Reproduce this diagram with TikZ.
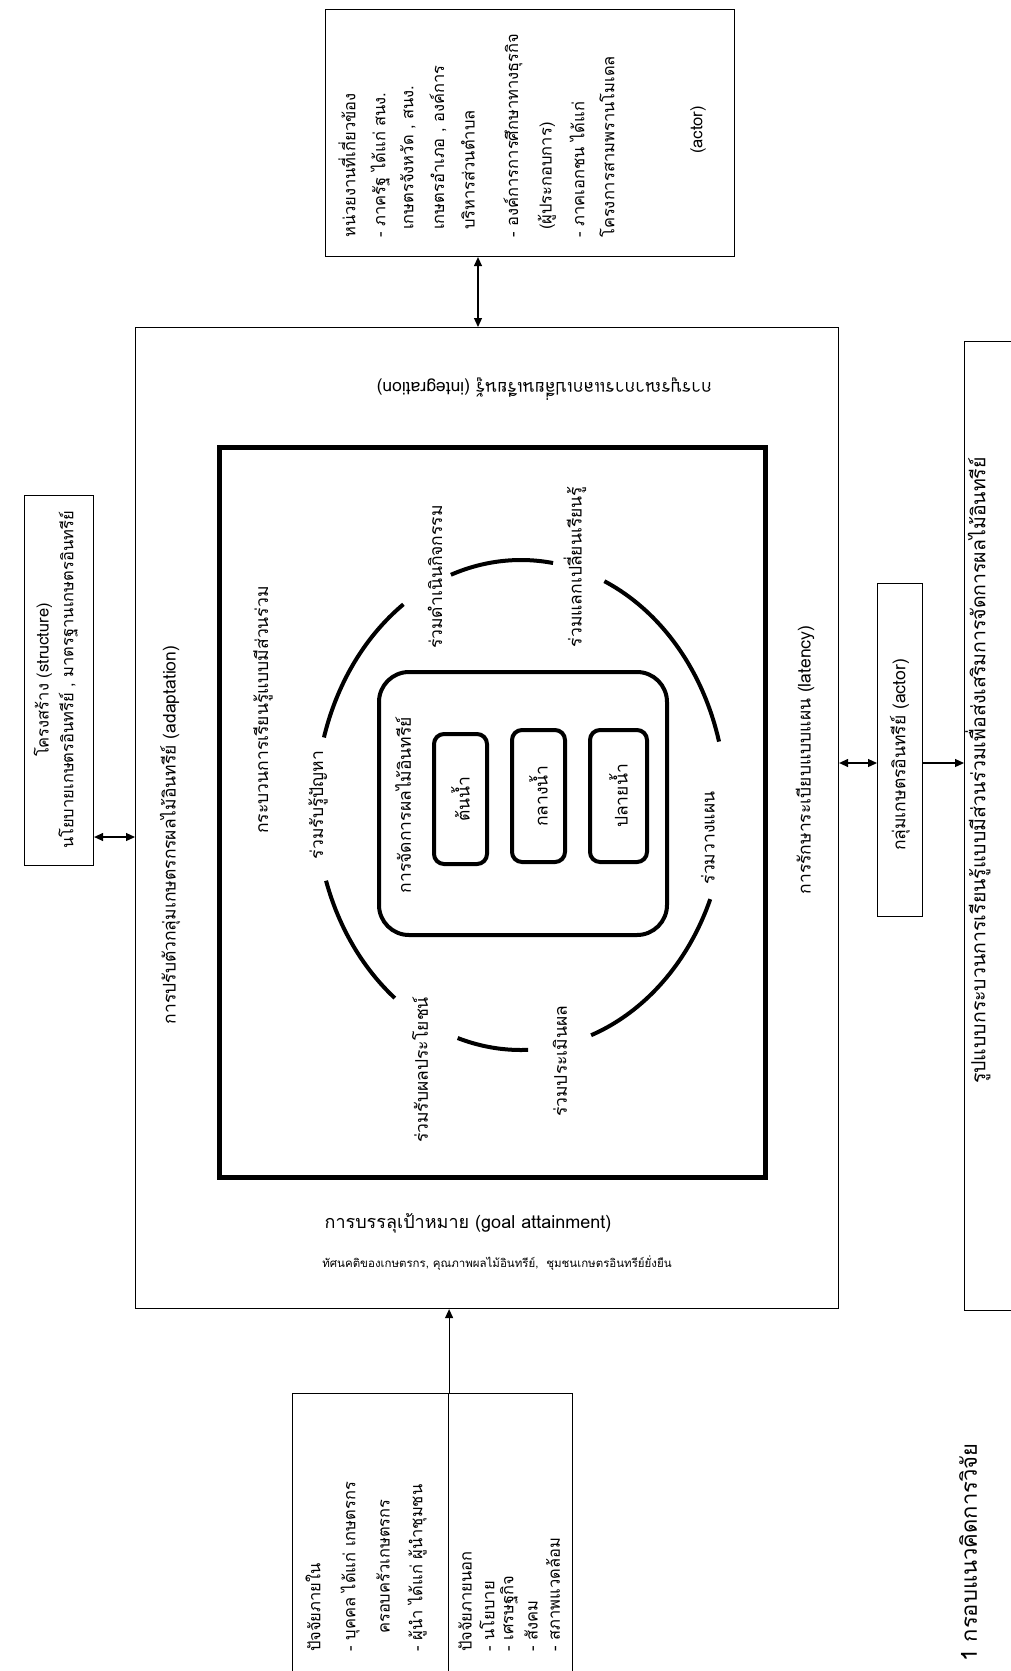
\documentclass[tikz,border=0pt]{standalone}
\usepackage{fontspec}
\setmainfont[Script=Thai]{Loma}
\usetikzlibrary{arrows.meta}
\begin{document}
\begin{tikzpicture}[x=1pt,y=-1pt,
  txt/.style={inner sep=0pt, font=\fontsize{17.5}{20}\selectfont},
  vtxt/.style={txt, rotate=90},
  stxt/.style={vtxt, font=\fontsize{16.5}{19}\selectfont},
  box/.style={draw, line width=1.1pt, inner sep=0pt, anchor=north west},
  thickbox/.style={draw, line width=5pt, inner sep=0pt, anchor=north west},
  rbox/.style={draw, line width=4pt, inner sep=0pt, anchor=north west, rounded corners=#1},
  ring/.style={line width=4pt},
  dbl/.style={{Triangle[length=9pt,width=8pt]}-{Triangle[length=9pt,width=8pt]}, line width=1.2pt},
  sgl/.style={-{Triangle[length=9pt,width=8pt]}, line width=1.2pt}]
\useasboundingbox (0,0) rectangle (1011,1671);

% ---------- boxes ----------
\node[box, minimum width=409pt, minimum height=247pt] (agency) at (325,9) {};
\node[box, minimum width=703pt, minimum height=981pt] (outer) at (135,327) {};
\node[thickbox, minimum width=546pt, minimum height=730pt] (inner) at (217,445) {};
\node[box, minimum width=69pt, minimum height=370pt] (structure) at (24,495) {};
\node[box, minimum width=45pt, minimum height=333pt] (actor) at (877,583) {};
\node[box, minimum width=80pt, minimum height=969pt] (model) at (964,341) {};
\node[box, minimum width=156pt, minimum height=290pt] (fin) at (292,1393) {};
\node[box, minimum width=124pt, minimum height=290pt] (fout) at (448,1393) {};

\node[rbox=30pt, minimum width=288pt, minimum height=263pt] (mgmt) at (377,670) {};
\node[rbox=10pt, minimum width=53pt, minimum height=130pt] (up) at (432,732) {};
\node[rbox=10pt, minimum width=53pt, minimum height=132pt] (mid) at (510,728) {};
\node[rbox=10pt, minimum width=57pt, minimum height=132pt] (down) at (588,728) {};

% ---------- connectors ----------
\coordinate (ta) at (478,0);
\coordinate (la) at (0,837);
\coordinate (ra) at (0,763);
\draw[dbl] (agency.south -| ta) -- (outer.north -| ta);
\draw[dbl] (structure.east |- la) -- (outer.west |- la);
\draw[dbl] (outer.east |- ra) -- (actor.west |- ra);
\draw[sgl] (actor.east |- ra) -- (model.west |- ra);
\draw[sgl] (fin.north east) -- (outer.south -| fin.north east);

% ---------- ring ----------
\def\cx{521}\def\cy{805}\def\rx{205}\def\ry{245}
\foreach \a/\b [count=\i] in {196/235, 250/279, 294/345, 22.6/70, 88/108, 128/162}
  \draw[ring] plot[domain=\a:\b, samples=40, smooth] ({\cx+\rx*cos(\x)}, {\cy+\ry*sin(\x)});

% ---------- agency text ----------
\node[stxt, anchor=west] (ag1) at (347,238) {หน่วยงานที่เกี่ยวข้อง};
\node[stxt, anchor=west] (ag2) at (380,238) {-\hspace{6pt}ภาครัฐ ได้แก่ สนง.};
\node[stxt, anchor=west] (ag3) at (408,230) {เกษตรจังหวัด , สนง.};
\node[stxt, anchor=west] (ag4) at (438,230) {เกษตรอำเภอ , องค์การ};
\node[stxt, anchor=west] (ag5) at (468,230) {บริหารส่วนตำบล};
\node[stxt, anchor=west] (ag6) at (513,238) {-\hspace{6pt}องค์การการศึกษาทางธุรกิจ};
\node[stxt, anchor=west] (ag7) at (547,230) {(ผู้ประกอบการ)};
\node[stxt, anchor=west] (ag8) at (577,238) {-\hspace{6pt}ภาคเอกชน ได้แก่};
\node[stxt, anchor=west] (ag9) at (607,238) {โครงการสามพรานโมเดล};
\node[stxt] (ag10) at (698,130) {(actor)};

% ---------- structure ----------
\node[stxt] (st1) at (43,680) {โครงสร้าง (structure)};
\node[stxt] (st2) at (68,680) {นโยบายเกษตรอินทรีย์ , มาตรฐานเกษตรอินทรีย์};

% ---------- outer labels ----------
\node[vtxt] (adapt) at (170,835) {การปรับตัวกลุ่มเกษตรกรผลไม้อินทรีย์ (adaptation)};
\node[txt, rotate=180, anchor=west] (integ) at (712,389) {การบูรณาการแลกเปลี่ยนเรียนรู้ (integration)};
\node[vtxt] (laten) at (805,760) {การรักษาระเบียบแบบแผน (latency)};
\node[txt, font=\fontsize{18}{21}\selectfont] (goal) at (468,1223) {การบรรลุเป้าหมาย (goal attainment)};
\node[txt, font=\fontsize{11.5}{14}\selectfont] (attit) at (497,1263) {ทัศนคติของเกษตรกร, คุณภาพผลไม้อินทรีย์,\ \ ชุมชนเกษตรอินทรีย์ยั่งยืน};

% ---------- inner labels ----------
\node[vtxt] (proc) at (263,710) {กระบวนการเรียนรู้แบบมีส่วนร่วม};
\node[vtxt] (c1) at (318,805) {ร่วมรับรู้ปัญหา};
\node[vtxt] (c2) at (435,577) {ร่วมดำเนินกิจกรรม};
\node[vtxt] (c3) at (575,567) {ร่วมแลกเปลี่ยนเรียนรู้};
\node[vtxt] (c4) at (708,838) {ร่วมวางแผน};
\node[vtxt, anchor=west] (c5) at (560,1117) {ร่วมประเมินผล};
\node[vtxt, anchor=west] (c6) at (420,1143) {ร่วมรับผลประโยชน์};
\node[vtxt] (mg) at (403,805) {การจัดการผลไม้อินทรีย์};
\node[vtxt] at (up.center) {ต้นน้ำ};
\node[vtxt] at (mid.center) {กลางน้ำ};
\node[vtxt] at (down.center) {ปลายน้ำ};

% ---------- right ----------
\node[vtxt] (actt) at (900,755) {กลุ่มเกษตรอินทรีย์ (actor)};
\node[vtxt, anchor=east, font=\fontsize{19.5}{22}\selectfont] (modt) at (978,457) {รูปแบบกระบวนการเรียนรู้แบบมีส่วนร่วมเพื่อส่งเสริมการจัดการผลไม้อินทรีย์};

% ---------- factors ----------
\node[stxt, anchor=west] (f1) at (313,1652) {ปัจจัยภายใน};
\node[stxt, anchor=west] (f2) at (350,1652) {-\hspace{6pt}บุคคล ได้แก่ เกษตรกร};
\node[stxt, anchor=west] (f3) at (383,1634) {ครอบครัวเกษตรกร};
\node[stxt, anchor=west] (f4) at (417,1652) {-\hspace{6pt}ผู้นำ ได้แก่ ผู้นำชุมชน};
\node[stxt, anchor=west] (g1) at (465,1652) {ปัจจัยภายนอก};
\node[stxt, anchor=west] (g2) at (487,1652) {-\hspace{6pt}นโยบาย};
\node[stxt, anchor=west] (g3) at (509,1652) {-\hspace{6pt}เศรษฐกิจ};
\node[stxt, anchor=west] (g4) at (531,1652) {-\hspace{6pt}สังคม};
\node[stxt, anchor=west] (g5) at (553,1652) {-\hspace{6pt}สภาพแวดล้อม};

% ---------- caption ----------
\node[txt, rotate=90, anchor=west, font=\fontsize{22}{26}\selectfont] (cap) at (968,1662) {1 กรอบแนวคิดการวิจัย};
\end{tikzpicture}
\end{document}
